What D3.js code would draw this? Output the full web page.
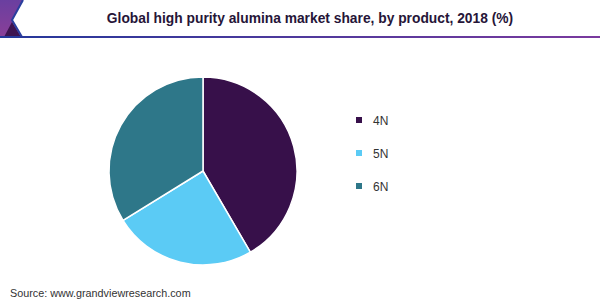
<!DOCTYPE html>
<html>
<head>
<meta charset="utf-8">
<script src="https://cdn.jsdelivr.net/npm/d3@7"></script>
<style>
  html, body { margin: 0; padding: 0; background: #fff; }
  svg { display: block; }
</style>
</head>
<body>
<script>
const width = 600;
const height = 300;

const categories = ["4N", "5N", "6N"];
const shares = [41.6, 24.6, 33.8];
const colors = ["#37104a", "#5bcbf5", "#2e7789"];

const svg = d3.select("body")
  .append("svg")
  .attr("width", width)
  .attr("height", height);

const defs = svg.append("defs");
const lineGrad = defs.append("linearGradient")
  .attr("id", "lineGrad")
  .attr("x1", "0%").attr("x2", "100%");
lineGrad.append("stop").attr("offset", "0%").attr("stop-color", "#24389a");
lineGrad.append("stop").attr("offset", "100%").attr("stop-color", "#7a3a9e");

const cornerGrad = defs.append("linearGradient")
  .attr("id", "cornerGrad")
  .attr("x1", "0%").attr("y1", "0%").attr("x2", "0%").attr("y2", "100%");
cornerGrad.append("stop").attr("offset", "0%").attr("stop-color", "#6a3fa0");
cornerGrad.append("stop").attr("offset", "100%").attr("stop-color", "#8a3f98");

// header corner decoration
svg.append("path")
  .attr("d", "M0,0 L23,0 L12,20 L22,37 L0,37 Z")
  .attr("fill", "url(#cornerGrad)");
svg.append("path")
  .attr("d", "M4,37 L12,22 L21,37 Z")
  .attr("fill", "#3d1450");
svg.append("path")
  .attr("d", "M23,0 L12,20 L22,37")
  .attr("fill", "none")
  .attr("stroke", "#2a3f9e")
  .attr("stroke-width", 2);

svg.append("rect")
  .attr("x", 0).attr("y", 36)
  .attr("width", width).attr("height", 2)
  .attr("fill", "url(#lineGrad)");

svg.append("text")
  .attr("x", 310)
  .attr("y", 23)
  .attr("text-anchor", "middle")
  .attr("fill", "#261538")
  .attr("font-family", "Arial, Helvetica, sans-serif")
  .attr("font-size", 13.8)
  .attr("font-weight", 700)
  .text("Global high purity alumina market share, by product, 2018 (%)");

// pie
const cx = 203;
const cy = 171;
const radius = 94;

const pie = d3.pie().sort(null).value((d) => d.value);
const arc = d3.arc().innerRadius(0).outerRadius(radius);
const pieData = pie(categories.map((c, i) => ({ name: c, value: shares[i], color: colors[i] })));

svg.append("g")
  .attr("transform", `translate(${cx},${cy})`)
  .selectAll("path")
  .data(pieData)
  .join("path")
  .attr("d", arc)
  .attr("fill", (d) => d.data.color)
  .attr("stroke", "#fff")
  .attr("stroke-width", 1.5);

// legend
const legendY = d3.scalePoint().domain(categories).range([120, 186]);

const legend = svg.append("g")
  .selectAll("g")
  .data(categories)
  .join("g")
  .attr("transform", (d) => `translate(356,${legendY(d)})`);

legend.append("rect")
  .attr("x", 0).attr("y", -3)
  .attr("width", 6).attr("height", 6)
  .attr("fill", (d, i) => colors[i]);

legend.append("text")
  .attr("x", 17)
  .attr("y", 4.5)
  .attr("fill", "#333")
  .attr("font-family", "Arial, Helvetica, sans-serif")
  .attr("font-size", 12)
  .text((d) => d);

svg.append("text")
  .attr("x", 10)
  .attr("y", 297)
  .attr("fill", "#333")
  .attr("font-family", "Arial, Helvetica, sans-serif")
  .attr("font-size", 10.8)
  .text("Source: www.grandviewresearch.com");
</script>
</body>
</html>
